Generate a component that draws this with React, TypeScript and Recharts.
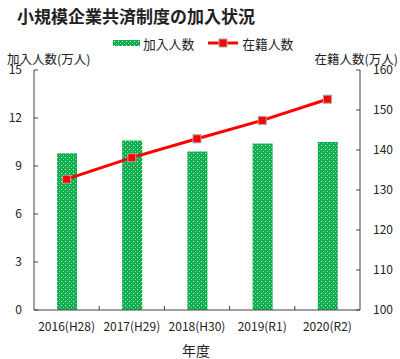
import React from "react";
import { ComposedChart, Bar, Line, XAxis, YAxis } from "recharts";

const years = ["2016(H28)", "2017(H29)", "2018(H30)", "2019(R1)", "2020(R2)"];
const newMembers = [9.8, 10.6, 9.9, 10.4, 10.5];
const enrolled = [132.7, 138.1, 142.8, 147.4, 152.7];
const leftTicks = [0, 3, 6, 9, 12, 15];
const rightTicks = [100, 110, 120, 130, 140, 150, 160];
const seriesNames = ["加入人数", "在籍人数"];

const data = years.map((year, i) => ({
  year,
  newMembers: newMembers[i],
  enrolled: enrolled[i],
}));

const FONT = "'Noto Sans CJK JP', 'Noto Sans', sans-serif";
const AXIS = "#404040";
const GREEN = "#0DAE4E";
const RED = "#FF0000";

const W = 400;
const H = 359;
const MARGIN = { top: 70, right: 5, bottom: 19, left: 4 };
const LEFT_W = 30;
const RIGHT_W = 35;
const BAND = (W - MARGIN.left - MARGIN.right - LEFT_W - RIGHT_W) / years.length;

const DotPattern = ({ id }: { id: string }) => (
  <pattern id={id} width={4} height={4} patternUnits="userSpaceOnUse">
    <rect width={4} height={4} fill={GREEN} />
    <rect x={1} y={1} width={1} height={1} fill="#ffffff" opacity={0.85} />
    <rect x={3} y={3} width={1} height={1} fill="#ffffff" opacity={0.5} />
  </pattern>
);

const SquareDot = (props: any) => {
  const { cx, cy, index } = props;
  if (cx == null || cy == null) return null;
  return (
    <rect
      key={index}
      x={cx - 4}
      y={cy - 4}
      width={8}
      height={8}
      fill={RED}
      stroke="#A6A6A6"
      strokeWidth={1}
    />
  );
};

const YearTick = (props: any) => {
  const { x, y, payload, index } = props;
  const axisY = y - 12;
  return (
    <g>
      {index < years.length - 1 && (
        <line x1={x + BAND / 2} x2={x + BAND / 2} y1={axisY} y2={axisY - 4} stroke={AXIS} />
      )}
      <text x={x} y={y} dy="0.71em" textAnchor="middle" fontSize={12} fill="#222" fontFamily={FONT}>
        {payload.value}
      </text>
    </g>
  );
};

export default function App() {
  return (
    <div
      style={{
        position: "absolute",
        left: 0,
        top: 0,
        width: W,
        height: H,
        background: "#fff",
        fontFamily: FONT,
        color: "#222",
      }}
    >
      <div style={{ position: "absolute", left: 17, top: 3, fontSize: 17, fontWeight: 700, whiteSpace: "nowrap" }}>
        小規模企業共済制度の加入状況
      </div>

      {/* legend */}
      <div style={{ position: "absolute", left: 113, top: 35, height: 16, display: "flex", alignItems: "center", fontSize: 12.8, whiteSpace: "nowrap" }}>
        <svg width={27} height={6}>
          <defs>
            <DotPattern id="dotsLegend" />
          </defs>
          <rect width={27} height={6} fill="url(#dotsLegend)" />
        </svg>
        <span style={{ marginLeft: 3 }}>{seriesNames[0]}</span>
        <svg width={30} height={10} style={{ marginLeft: 14 }}>
          <line x1={0} x2={30} y1={5} y2={5} stroke={RED} strokeWidth={3} />
          <rect x={11} y={1} width={8} height={8} fill={RED} stroke="#A6A6A6" />
        </svg>
        <span style={{ marginLeft: 4 }}>{seriesNames[1]}</span>
      </div>

      <div style={{ position: "absolute", left: 7, top: 53, fontSize: 12.5, lineHeight: "11px", whiteSpace: "nowrap" }}>
        加入人数(万人)
      </div>
      <div style={{ position: "absolute", right: 2, top: 53, fontSize: 12.5, lineHeight: "11px", whiteSpace: "nowrap" }}>
        在籍人数(万人)
      </div>

      <ComposedChart width={W} height={H} data={data} margin={MARGIN} style={{ position: "absolute", left: 0, top: 0 }}>
        <defs>
          <DotPattern id="dotsBar" />
        </defs>
        <XAxis
          dataKey="year"
          height={30}
          axisLine={{ stroke: AXIS }}
          tickLine={false}
          tickSize={0}
          tickMargin={12}
          interval={0}
          tick={<YearTick />}
        />
        <YAxis
          yAxisId="left"
          width={LEFT_W}
          domain={[0, 15]}
          ticks={leftTicks}
          interval={0}
          axisLine={{ stroke: AXIS }}
          tickLine={{ stroke: AXIS }}
          tickSize={-4}
          tickMargin={16}
          tick={{ fontSize: 12, fill: "#222", fontFamily: FONT }}
        />
        <YAxis
          yAxisId="right"
          orientation="right"
          width={RIGHT_W}
          domain={[100, 160]}
          ticks={rightTicks}
          interval={0}
          axisLine={{ stroke: AXIS }}
          tickLine={{ stroke: AXIS }}
          tickSize={-4}
          tickMargin={17}
          tick={{ fontSize: 12, fill: "#222", fontFamily: FONT, textAnchor: "start" }}
        />
        <Bar
          yAxisId="left"
          dataKey="newMembers"
          name={seriesNames[0]}
          barSize={20}
          fill="url(#dotsBar)"
          isAnimationActive={false}
        />
        <Line
          yAxisId="right"
          dataKey="enrolled"
          name={seriesNames[1]}
          type="linear"
          stroke={RED}
          strokeWidth={3}
          dot={<SquareDot />}
          activeDot={false}
          isAnimationActive={false}
        />
      </ComposedChart>

      <div style={{ position: "absolute", left: 0, width: 392, top: 340, textAlign: "center", fontSize: 14 }}>
        年度
      </div>
    </div>
  );
}
